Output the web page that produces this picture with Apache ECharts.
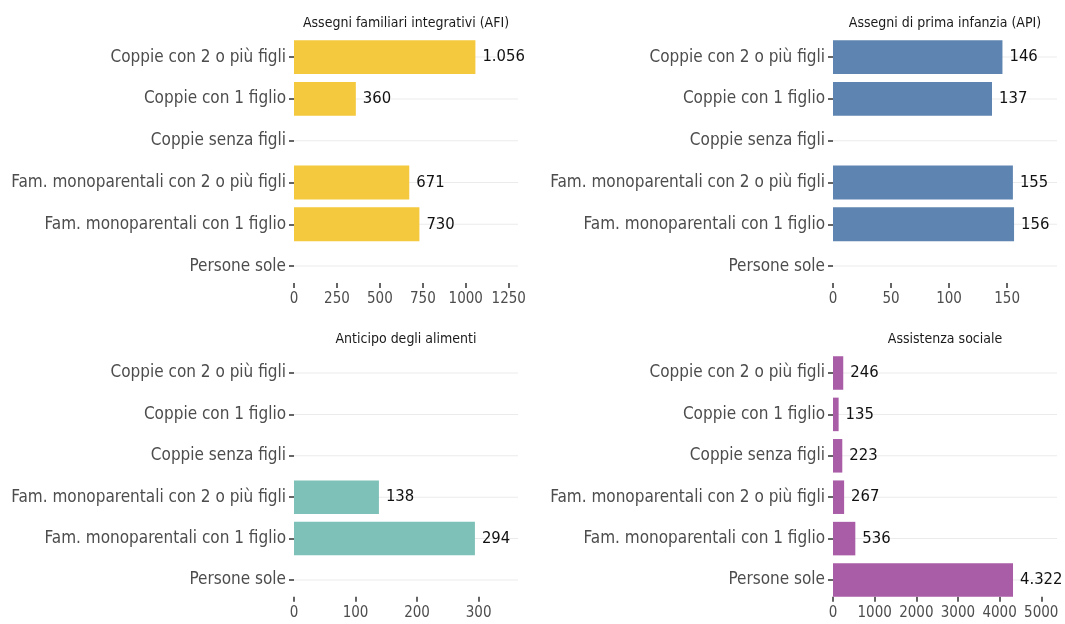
<!DOCTYPE html>
<html>
<head>
<meta charset="utf-8">
<title>Beneficiari per tipologia familiare</title>
<script src="https://cdn.jsdelivr.net/npm/echarts@6/dist/echarts.min.js"></script>
<style>
  html, body { margin: 0; padding: 0; background: #fff; }
  #chart { width: 1065px; height: 624px; }
</style>
</head>
<body>
<div id="chart"></div>
<script>
// categorie (dall'alto in basso)
const categorie = [
  'Coppie con 2 o più figli',
  'Coppie con 1 figlio',
  'Coppie senza figli',
  'Fam. monoparentali con 2 o più figli',
  'Fam. monoparentali con 1 figlio',
  'Persone sole'
];

// valori per pannello
const afi = [1056, 360, null, 671, 730, null];
const api = [146, 137, null, 155, 156, null];
const anticipo = [null, null, null, 138, 294, null];
const assistenza = [246, 135, 223, 267, 536, 4322];

// titoli dei pannelli
const titoli = [
  'Assegni familiari integrativi (AFI)',
  'Assegni di prima infanzia (API)',
  'Anticipo degli alimenti',
  'Assistenza sociale'
];

// tick asse x
const tickAfi = [0, 250, 500, 750, 1000, 1250];
const tickApi = [0, 50, 100, 150];
const tickAnticipo = [0, 100, 200, 300];
const tickAssistenza = [0, 1000, 2000, 3000, 4000, 5000];

// limiti asse x
const maxAssi = [1304, 193, 364, 5378];

const colori = ['#F4C93E', '#5E84B1', '#7DC1B8', '#A95DA7'];
const FONT = '"DejaVu Sans Condensed", "Liberation Sans Narrow", sans-serif';

const pannelli = [
  {dati: afi, tick: tickAfi, left: 294, top: 36.2, band: 41.8},
  {dati: api, tick: tickApi, left: 833, top: 36.2, band: 41.8},
  {dati: anticipo, tick: tickAnticipo, left: 294, top: 352.3, band: 41.4},
  {dati: assistenza, tick: tickAssistenza, left: 833, top: 352.3, band: 41.4}
];

// 1.056 / 4.322 (separatore delle migliaia italiano)
const formatta = v => String(v).replace(/\B(?=(\d{3})+(?!\d))/g, '.');

const chart = echarts.init(document.getElementById('chart'));

const grid = [], xAxis = [], yAxis = [], series = [], title = [];

pannelli.forEach((p, i) => {
  const h = p.band * categorie.length;
  grid.push({left: p.left, top: p.top, width: 224, height: h, containLabel: false, outerBoundsMode: 'none'});

  title.push({
    text: titoli[i],
    left: p.left + 107,
    top: p.top - 25,
    textAlign: 'center',
    textStyle: {fontFamily: FONT, fontSize: 14, fontWeight: 'normal', color: '#1a1a1a'}
  });

  xAxis.push({
    type: 'value',
    gridIndex: i,
    min: 0,
    max: maxAssi[i],
    offset: -4,
    axisLine: {show: false},
    splitLine: {show: false},
    axisTick: {show: true, length: 5, customValues: p.tick, lineStyle: {color: '#333', width: 1.5}},
    axisLabel: {
      customValues: p.tick,
      formatter: v => String(v),
      hideOverlap: false,
      fontFamily: FONT, fontSize: 15, color: '#4d4d4d', margin: 9
    }
  });

  // asse visibile con le categorie
  yAxis.push({
    type: 'category',
    gridIndex: i,
    data: categorie,
    inverse: true,
    axisLine: {show: false},
    axisTick: {show: true, length: 5, alignWithLabel: true, lineStyle: {color: '#333', width: 1.5}},
    splitLine: {show: false},
    axisLabel: {fontFamily: FONT, fontSize: 17, color: '#4d4d4d', margin: 8}
  });
  // asse nascosto per le linee guida orizzontali
  yAxis.push({
    type: 'category',
    gridIndex: i,
    data: categorie,
    inverse: true,
    show: false
  });

  series.push({
    type: 'bar',
    xAxisIndex: i,
    yAxisIndex: 2 * i + 1,
    data: categorie.map(() => maxAssi[i]),
    barWidth: 1,
    itemStyle: {color: '#ebebeb'},
    silent: true,
    z: 1
  });

  series.push({
    type: 'bar',
    xAxisIndex: i,
    yAxisIndex: 2 * i,
    data: p.dati,
    barWidth: '81%',
    itemStyle: {color: colori[i]},
    z: 3,
    label: {
      show: true,
      position: 'right',
      distance: 7,
      formatter: d => formatta(d.value),
      fontFamily: FONT,
      fontSize: 16.5,
      color: '#111'
    }
  });
});

chart.setOption({
  animation: false,
  backgroundColor: '#fff',
  title: title,
  grid: grid,
  xAxis: xAxis,
  yAxis: yAxis,
  series: series
});
</script>
</body>
</html>
